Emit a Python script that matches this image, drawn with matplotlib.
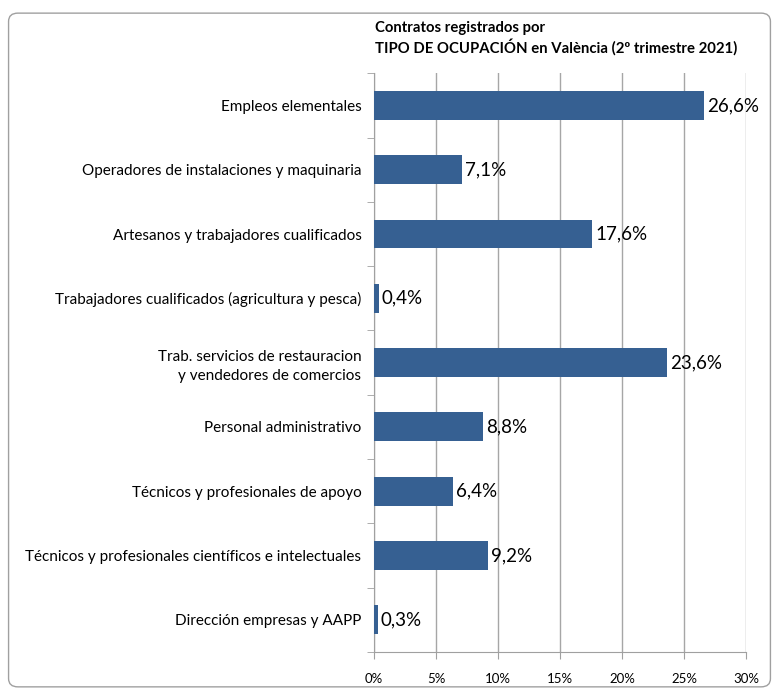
import matplotlib.pyplot as plt
from matplotlib.patches import FancyBboxPatch
from matplotlib.ticker import FixedLocator

plt.rcParams["font.family"] = ["Lato", "DejaVu Sans"]

categories = [
    "Empleos elementales",
    "Operadores de instalaciones y maquinaria",
    "Artesanos y trabajadores cualificados",
    "Trabajadores cualificados (agricultura y pesca)",
    "Trab. servicios de restauracion\ny vendedores de comercios",
    "Personal administrativo",
    "Técnicos y profesionales de apoyo",
    "Técnicos y profesionales científicos e intelectuales",
    "Dirección empresas y AAPP",
]
values = [26.6, 7.1, 17.6, 0.4, 23.6, 8.8, 6.4, 9.2, 0.3]
xticks = [0, 5, 10, 15, 20, 25, 30]

fig = plt.figure(figsize=(7.79, 6.91), dpi=100)
frame = FancyBboxPatch((0.011, 0.006), 0.978, 0.975, boxstyle="round,pad=0,rounding_size=0.012",
                       transform=fig.transFigure, facecolor="white", edgecolor="#a0a0a0",
                       linewidth=1.0, zorder=-1)
fig.patches.append(frame)

ax = fig.add_axes([0.480, 0.0564, 0.478, 0.8376])
ax.set_facecolor("none")

pos = list(range(len(categories)))
ax.barh(pos, values, height=0.45, color="#366092", zorder=3)
for p, v in zip(pos, values):
    ax.text(v + 0.25, p, f"{v:.1f}%".replace(".", ","), va="center", ha="left",
            fontsize=13.5, color="black", zorder=4)

ax.set_ylim(len(categories) - 0.5, -0.5)
ax.set_xlim(0, 30)
ax.set_yticks(pos)
ax.set_yticklabels(categories, fontsize=11, ha="right", linespacing=1.4)
ax.yaxis.set_minor_locator(FixedLocator([p - 0.5 for p in range(len(categories) + 1)]))
ax.tick_params(axis="y", which="major", length=0, pad=9)
ax.tick_params(axis="y", which="minor", length=5, color="#a0a0a0", direction="out")

ax.set_xticks(xticks)
ax.set_xticklabels([f"{t}%" for t in xticks], fontsize=9.5)
ax.tick_params(axis="x", length=5, color="#a0a0a0", pad=10)
ax.grid(axis="x", color="#a6a6a6", linewidth=1.0, zorder=0)

for s in ["top", "right"]:
    ax.spines[s].set_visible(False)
for s in ["left", "bottom"]:
    ax.spines[s].set_color("#a0a0a0")

fig.text(0.481, 0.920, "Contratos registrados por\nTIPO DE OCUPACIÓN en València (2º trimestre 2021)",
         fontsize=10.7, fontweight="bold", ha="left", va="bottom", linespacing=1.25)

fig.savefig("out.png", dpi=100)
